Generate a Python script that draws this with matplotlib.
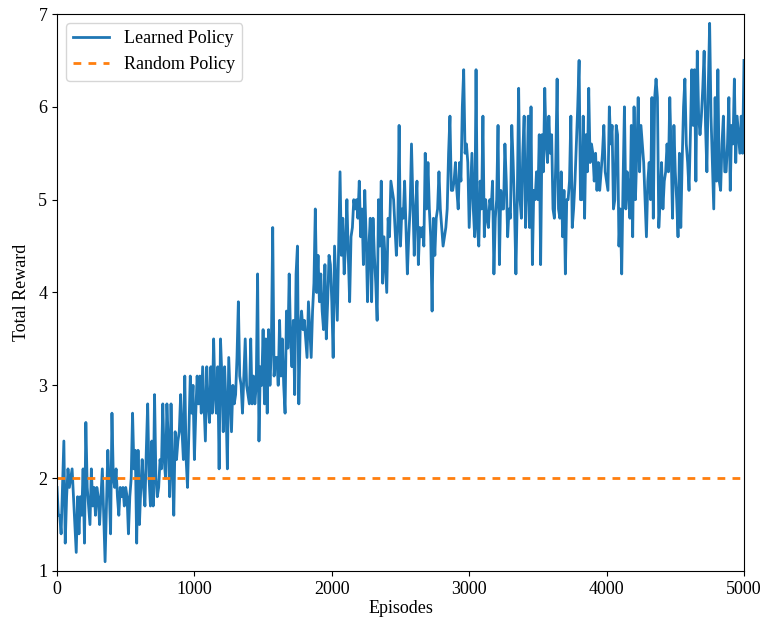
import numpy as np
import matplotlib
matplotlib.use("Agg")
import matplotlib.pyplot as plt

plt.rcParams['font.family'] = ['Liberation Serif', 'DejaVu Serif']
plt.rcParams['mathtext.fontset'] = 'stix'

# total reward of the learned policy, one evaluation every 10 episodes
episodes = np.arange(0, 5001, 10)
learned_reward = [
    1.9, 1.6, 1.6, 1.4, 1.9, 2.4, 1.3, 1.8, 2.1, 1.9,
    2.0, 2.1, 1.8, 1.5, 1.2, 1.8, 1.4, 1.8, 1.6, 2.1,
    1.3, 2.6, 1.9, 1.7, 1.5, 2.1, 1.7, 1.9, 1.6, 1.9,
    1.8, 1.5, 1.8, 2.1, 1.6, 1.1, 1.7, 2.3, 1.9, 1.4,
    2.7, 2.0, 1.9, 2.1, 1.8, 1.6, 1.9, 1.8, 1.9, 1.7,
    1.9, 1.8, 1.4, 1.8, 2.0, 2.7, 2.1, 2.3, 1.3, 2.3,
    1.5, 1.9, 2.2, 1.9, 1.7, 2.3, 2.8, 2.0, 1.7, 2.4,
    1.7, 2.9, 2.0, 1.8, 1.9, 2.2, 2.1, 2.8, 2.2, 2.0,
    2.8, 2.4, 1.8, 2.8, 2.1, 1.6, 2.5, 2.2, 2.4, 2.5,
    2.9, 2.5, 2.2, 3.1, 2.2, 1.9, 2.5, 3.1, 2.7, 3.0,
    2.2, 2.7, 3.1, 2.8, 3.1, 2.7, 3.2, 2.8, 2.4, 3.2,
    2.8, 2.6, 3.2, 2.7, 3.5, 2.9, 2.7, 3.2, 2.1, 3.5,
    3.1, 2.5, 3.2, 2.8, 2.1, 3.3, 2.9, 2.5, 3.0, 2.8,
    2.9, 3.3, 3.9, 3.1, 3.0, 2.7, 3.1, 3.5, 3.0, 2.9,
    2.8, 3.5, 2.8, 3.1, 2.8, 3.0, 4.2, 2.4, 3.2, 3.0,
    3.6, 2.8, 3.5, 2.7, 3.6, 3.0, 3.4, 4.7, 3.1, 3.3,
    3.3, 3.0, 3.7, 3.1, 3.5, 3.0, 2.7, 3.8, 3.4, 4.2,
    3.5, 3.2, 3.7, 2.9, 4.2, 4.5, 2.8, 3.6, 3.8, 3.6,
    3.7, 3.5, 3.3, 3.9, 3.6, 3.3, 3.8, 4.1, 4.9, 4.0,
    4.4, 3.9, 4.2, 3.8, 3.6, 4.3, 3.5, 3.9, 4.4, 4.3,
    3.9, 3.3, 4.5, 4.1, 3.7, 4.5, 5.3, 4.4, 4.8, 4.2,
    4.5, 5.0, 4.4, 3.9, 4.6, 4.7, 5.0, 4.9, 5.0, 4.8,
    5.2, 4.6, 4.9, 4.3, 5.1, 4.6, 3.9, 4.5, 4.8, 3.9,
    4.8, 4.4, 4.1, 3.7, 5.0, 4.5, 5.2, 4.1, 4.6, 4.3,
    4.0, 4.8, 4.6, 5.2, 5.1, 5.0, 4.7, 4.4, 4.7, 5.8,
    4.5, 4.9, 4.8, 5.2, 4.7, 4.2, 4.6, 4.9, 5.6, 5.0,
    4.4, 4.9, 5.2, 4.3, 4.7, 4.6, 4.7, 4.5, 5.5, 4.9,
    5.4, 4.9, 4.6, 3.8, 4.8, 4.4, 4.8, 4.9, 5.3, 4.9,
    4.7, 4.5, 4.6, 4.7, 4.9, 5.5, 5.9, 5.1, 5.1, 5.2,
    5.4, 5.1, 4.9, 5.4, 5.2, 6.0, 6.4, 5.5, 5.6, 5.4,
    4.7, 5.1, 5.5, 4.9, 4.6, 6.4, 4.7, 4.5, 5.2, 4.9,
    5.9, 4.6, 5.0, 4.8, 4.7, 5.0, 4.9, 5.2, 4.2, 4.8,
    5.0, 5.8, 4.3, 5.1, 4.9, 4.9, 5.6, 5.2, 4.6, 4.9,
    4.8, 5.8, 5.4, 4.9, 4.2, 5.0, 6.2, 5.0, 4.8, 5.5,
    5.9, 4.7, 5.1, 5.9, 4.7, 6.0, 4.3, 5.1, 5.0, 5.3,
    5.0, 5.7, 4.3, 5.7, 5.3, 6.2, 5.6, 5.4, 5.9, 5.5,
    5.7, 4.9, 4.8, 5.4, 6.3, 4.9, 4.8, 5.3, 4.6, 5.1,
    4.2, 5.0, 5.0, 5.2, 5.9, 4.7, 4.9, 5.2, 5.6, 6.0,
    6.5, 5.0, 5.0, 5.9, 4.8, 5.7, 5.3, 6.2, 5.4, 5.6,
    5.5, 5.2, 5.5, 5.1, 5.4, 5.1, 5.3, 5.5, 5.8, 5.3,
    5.2, 5.1, 6.0, 5.6, 5.8, 4.9, 5.0, 5.8, 5.7, 4.5,
    4.9, 4.2, 5.2, 6.0, 4.9, 5.3, 5.1, 4.8, 5.8, 4.6,
    6.0, 5.0, 5.5, 6.1, 5.3, 5.8, 5.6, 5.4, 5.0, 4.6,
    5.2, 5.4, 5.0, 6.1, 4.8, 6.1, 6.3, 6.1, 4.7, 5.0,
    5.4, 4.9, 5.2, 5.3, 5.6, 5.3, 6.1, 5.5, 4.8, 5.8,
    5.3, 5.0, 4.6, 5.5, 4.7, 5.4, 6.0, 6.3, 5.6, 5.4,
    5.1, 5.7, 6.4, 5.8, 6.4, 5.2, 6.6, 5.9, 5.7, 5.9,
    6.2, 6.6, 5.8, 5.3, 6.2, 6.9, 5.9, 5.4, 4.9, 6.1,
    5.2, 6.4, 5.2, 5.1, 5.6, 5.9, 5.3, 5.3, 5.6, 6.1,
    5.1, 5.8, 5.6, 6.3, 5.4, 5.9, 5.7, 5.5, 5.9, 5.5,
    6.5,
]
random_reward = 2.0

fig = plt.figure(figsize=(7.64, 6.23), dpi=100)
ax = fig.add_axes([0.0746, 0.0835, 0.8992, 0.894])
ax.plot(episodes, learned_reward, color='tab:blue', lw=2, label='Learned Policy')
ax.axhline(random_reward, color='tab:orange', ls=(0, (2.8, 2.6)), lw=2, label='Random Policy')
ax.set_xlim(0, 5000)
ax.set_ylim(1, 7)
ax.set_xlabel('Episodes', fontsize=13, labelpad=2)
ax.set_ylabel('Total Reward', fontsize=13, labelpad=6)
ax.tick_params(labelsize=13)
ax.legend(loc='upper left', fontsize=13)

fig.savefig('out.png', dpi=100)
